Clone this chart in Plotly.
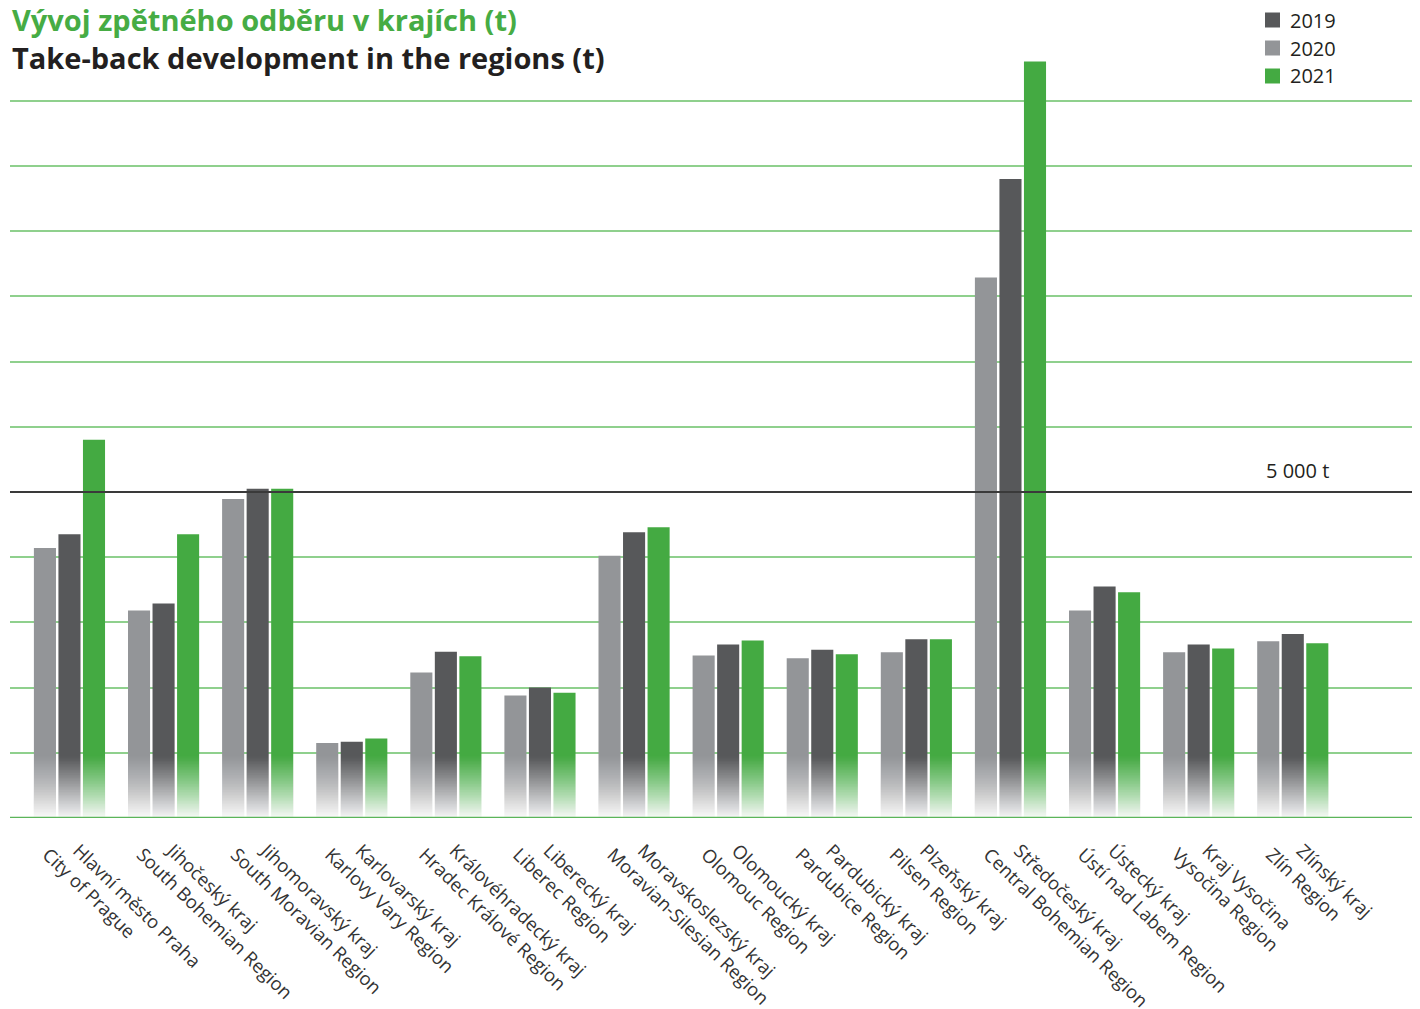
import plotly.graph_objects as go

NB = "\u00a0" * 4  # indent of the first label line (as in the reference layout)

regions_cz = ["Hlavní město Praha", "Jihočeský kraj", "Jihomoravský kraj", "Karlovarský kraj",
              "Královéhradecký kraj", "Liberecký kraj", "Moravskoslezský kraj", "Olomoucký kraj",
              "Pardubický kraj", "Plzeňský kraj", "Středočeský kraj", "Ústecký kraj",
              "Kraj Vysočina", "Zlínský kraj"]
regions_en = ["City of Prague", "South Bohemian Region", "South Moravian Region", "Karlovy Vary Region",
              "Hradec Králové Region", "Liberec Region", "Moravian-Silesian Region", "Olomouc Region",
              "Pardubice Region", "Pilsen Region", "Central Bohemian Region", "Ústí nad Labem Region",
              "Vysočina Region", "Zlín Region"]
regions = [f"{NB}{cz}<br>{en}" for cz, en in zip(regions_cz, regions_en)]

values_2020 = [4140, 3180, 4890, 1150, 2230, 1880, 4020, 2490, 2450, 2540, 8290, 3180, 2540, 2710]
values_2019 = [4350, 3290, 5050, 1170, 2550, 2000, 4380, 2660, 2580, 2740, 9800, 3550, 2660, 2820]
values_2021 = [5800, 4350, 5050, 1220, 2480, 1920, 4460, 2720, 2510, 2740, 11600, 3460, 2600, 2680]

threshold = 5000
threshold_label = "5 000 t"
title_cz = "Vývoj zpětného odběru v krajích (t)"
title_en = "Take-back development in the regions (t)"

C_LIGHT = "#939598"
C_DARK = "#57585a"
C_GREEN = "#44aa42"
C_GRID = "#8fd08d"
C_BASE = "#5bb55a"

series = [("2020", values_2020, C_LIGHT), ("2019", values_2019, C_DARK), ("2021", values_2021, C_GREEN)]
legend_order = [("2019", C_DARK), ("2020", C_LIGHT), ("2021", C_GREEN)]

fig = go.Figure()
for name, vals, col in series:
    fig.add_trace(go.Bar(x=regions, y=vals, name=name, marker_color=col,
                         marker_line_width=0, showlegend=False))

# figure geometry (page is offset by 8px body margin)
W, H = 1420, 1009
ML, MR, MT, MB = 2, 0, 47, 199
PW = W - ML - MR
PH = H - MT - MB
CAT_PX = 94.1
X_LEFT = -0.632
X_RIGHT = X_LEFT + PW / CAT_PX


def px(fx):
    return (fx - ML) / PW


def py(fy):
    return (H - MB - fy) / PH


shapes = []
# smooth white fade over the bottom of the bars (nested rectangles, no seams)
n = 40
fade_top = 950
T_prev = 1.0
for j in range(1, n + 1):
    T = 1 - 0.97 * (j - 0.5) / n
    a = 1 - T / T_prev
    T_prev = T
    shapes.append(dict(type="rect", xref="paper", yref="y", x0=0, x1=1,
                       y0=0, y1=fade_top * (n - j + 1) / n,
                       fillcolor=f"rgba(255,255,255,{a:.4f})", line=dict(width=0), layer="above"))
shapes.append(dict(type="line", xref="paper", yref="y", x0=0, x1=1, y0=0, y1=0,
                   line=dict(color=C_BASE, width=2.5), layer="above"))
shapes.append(dict(type="line", xref="paper", yref="y", x0=0, x1=1, y0=threshold, y1=threshold,
                   line=dict(color="#3a3a3a", width=2), layer="above"))

annotations = [
    dict(text=f"<span style='color:#46ac44'>{title_cz}</span><br>{title_en}",
         xref="paper", yref="paper", align="left",
         x=px(ML), y=py(30), xanchor="left", yanchor="middle", showarrow=False,
         font=dict(family="Open Sans", size=29, color="#231f20", weight="bold")),
    dict(text=threshold_label, xref="paper", yref="y", x=px(1289), y=threshold,
         xanchor="center", yanchor="bottom", yshift=6, showarrow=False,
         font=dict(family="Open Sans", size=20, color="#231f20")),
]

# custom legend
for i, (name, col) in enumerate(legend_order):
    cy = 12 + 28 * i
    shapes.append(dict(type="rect", xref="paper", yref="paper",
                       x0=px(1257), x1=px(1272), y0=py(cy + 7.5), y1=py(cy - 7.5),
                       fillcolor=col, line=dict(width=0), layer="above"))
    annotations.append(dict(text=name, xref="paper", yref="paper", x=px(1280), y=py(cy),
                            xanchor="left", yanchor="middle", showarrow=False,
                            font=dict(family="Open Sans", size=20, color="#231f20")))

fig.update_layout(
    width=W, height=H,
    margin=dict(l=ML, r=MR, t=MT, b=MB),
    plot_bgcolor="white", paper_bgcolor="white",
    barmode="group", bargap=0.218, bargroupgap=0.1,
    shapes=shapes, annotations=annotations,
    showlegend=False,
    xaxis=dict(range=[X_LEFT, X_RIGHT], showgrid=False, tickangle=44, ticks="",
               tickfont=dict(family="Open Sans", size=18.5, color="#333333"),
               ticklabelshift=-5, ticklabelstandoff=4,
               showline=False, zeroline=False),
    yaxis=dict(range=[0, 11700], dtick=1000, showgrid=True, gridcolor=C_GRID, gridwidth=1.5,
               showticklabels=False, zeroline=False, showline=False),
)

fig.write_html("out.html", config={"displayModeBar": False})
